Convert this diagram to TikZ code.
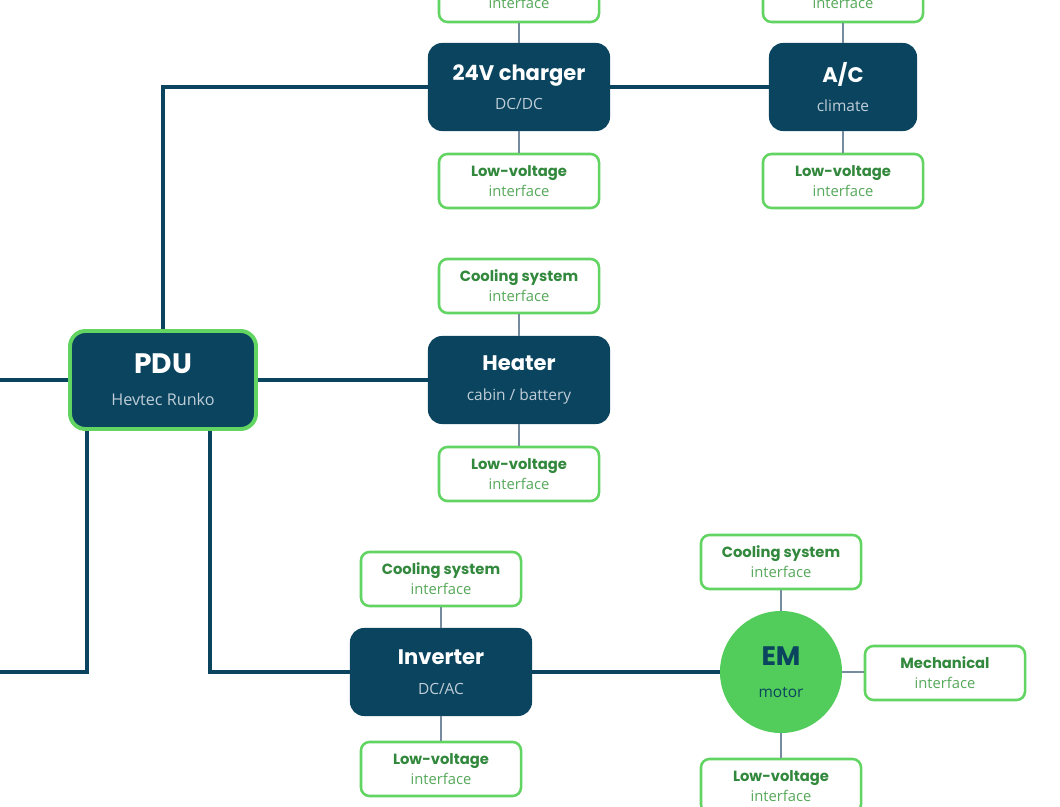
\documentclass[tikz,border=0pt]{standalone}
\usepackage{fontspec}
\setmainfont{Open Sans}
\newfontfamily\headfont{Poppins}
\usetikzlibrary{positioning,calc}
\definecolor{navy}{RGB}{10,68,95}
\definecolor{lgreen}{RGB}{98,212,98}
\definecolor{emgreen}{RGB}{82,204,90}
\definecolor{dgreen}{RGB}{50,136,60}
\definecolor{mgreen}{RGB}{86,168,90}
\definecolor{subgray}{RGB}{192,206,216}
\definecolor{wire}{RGB}{118,140,158}
\newcommand{\subtxt}[1]{{\normalfont\fontsize{11}{21}\selectfont\color{subgray}#1}}
\newcommand{\ifctxt}[1]{{\normalfont\fontsize{10.5}{14.2}\selectfont\color{mgreen}#1}}

\begin{document}
\begin{tikzpicture}[
    x=0.025cm, y=-0.025cm,
    Ubox/.style={fill=navy, draw=none, rounded corners=10pt, text=white, align=center,
        minimum width=129.5pt, minimum height=62.6pt, inner sep=0pt,
        font=\headfont\bfseries\fontsize{15}{21}\selectfont},
    PDUbox/.style={Ubox, draw=lgreen, line width=2.8pt, rounded corners=11pt,
        minimum width=132.3pt, minimum height=69.7pt,
        font=\headfont\bfseries\fontsize{20}{23}\selectfont},
    EMnode/.style={circle, fill=emgreen, text=navy, align=center, minimum size=86.8pt,
        inner sep=0pt, font=\headfont\bfseries\fontsize{19}{23}\selectfont},
    Ibox/.style={fill=white, draw=lgreen, line width=1.8pt, rounded corners=6pt,
        text=dgreen, align=center, minimum width=113.8pt, minimum height=38.4pt,
        inner sep=0pt, font=\headfont\bfseries\fontsize{10.5}{14.2}\selectfont},
    bus/.style={draw=navy, line width=2.8pt},
    tap/.style={draw=wire, line width=1.1pt},
]
\useasboundingbox (0,0) rectangle (1060,807);

\node[Ubox] (chg) at (519,87) {24V charger\\\subtxt{DC/DC}};
\node[Ubox, minimum width=105.3pt] (ac) at (843,87) {A/C\\\subtxt{climate}};
\node[PDUbox] (pdu) at (163,380) {PDU\\\subtxt{\fontsize{11.5}{23}\selectfont Hevtec Runko}};
\node[Ubox] (heat) at (519,380) {Heater\\\subtxt{cabin / battery}};
\node[Ubox] (inv) at (441,672) {Inverter\\\subtxt{DC/AC}};
\node[EMnode] (em) at (781,672) {EM\\{\normalfont\fontsize{11}{23}\selectfont motor}};

\node[Ibox] (chgtop) at (519,-5) {\mbox{}\\[5pt]\ifctxt{interface}};
\node[Ibox] (actop) at (843,-5) {\mbox{}\\[5pt]\ifctxt{interface}};
\node[Ibox] (chglv) at (519,181) {Low-voltage\\\ifctxt{interface}};
\node[Ibox] (aclv) at (843,181) {Low-voltage\\\ifctxt{interface}};
\node[Ibox] (heatcs) at (519,286) {Cooling system\\\ifctxt{interface}};
\node[Ibox] (heatlv) at (519,474) {Low-voltage\\\ifctxt{interface}};
\node[Ibox] (invcs) at (441,579) {Cooling system\\\ifctxt{interface}};
\node[Ibox] (invlv) at (441,769) {Low-voltage\\\ifctxt{interface}};
\node[Ibox] (emcs) at (781,562) {Cooling system\\\ifctxt{interface}};
\node[Ibox] (emlv) at (781,786) {Low-voltage\\\ifctxt{interface}};
\node[Ibox] (emmech) at (945,673) {Mechanical\\\ifctxt{interface}};

\coordinate (inA) at (0,380);
\coordinate (inB) at (0,672);

\draw[bus] (inA) -- (pdu);
\draw[bus] (pdu) -- (heat);
\draw[bus] (pdu.north) |- (chg);
\draw[bus] (chg) -- (ac);
\draw[bus] ($(pdu.south)+(-76,0)$) |- (inB);
\draw[bus] ($(pdu.south)+(47,0)$) |- (inv);
\draw[bus] (inv) -- (em);

\draw[tap] (chgtop) -- (chg);
\draw[tap] (actop) -- (ac);
\draw[tap] (chg) -- (chglv);
\draw[tap] (ac) -- (aclv);
\draw[tap] (heatcs) -- (heat);
\draw[tap] (heat) -- (heatlv);
\draw[tap] (invcs) -- (inv);
\draw[tap] (inv) -- (invlv);
\draw[tap] (emcs) -- (em);
\draw[tap] (em) -- (emlv);
\draw[tap] (em) -- (em -| emmech.west);
\end{tikzpicture}
\end{document}
